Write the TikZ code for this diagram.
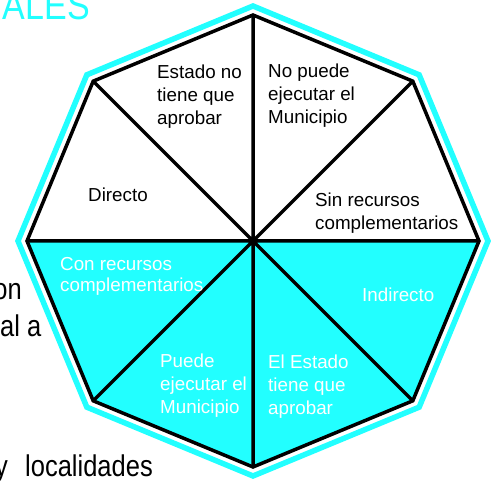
\documentclass[tikz,border=0pt]{standalone}
\usepackage{fontspec}
\setmainfont{Liberation Sans}
\newfontfamily\narrowfont[FakeStretch=0.85]{Liberation Sans}
\usepackage{tikz}
\usepackage{xcolor}
\definecolor{slidecyan}{HTML}{22FFFF}

\begin{document}
\begin{tikzpicture}[
  x=1pt, y=1pt,
  rim/.style={draw=slidecyan, line width=5.5pt, line join=miter},
  spoke/.style={draw=black, line width=3.5pt, line join=miter},
  lbl/.style={anchor=base west, inner sep=0pt, align=left, font=\fontsize{18.8}{23}\selectfont},
  lowlbl/.style={lbl, text=white},
  slide/.style={inner sep=0pt, font=\narrowfont\fontsize{30}{36}\selectfont}
]
\useasboundingbox (0,0) rectangle (491,481);
\coordinate (c) at (253,240);
\foreach \i in {0,...,7} {
  \coordinate (v\i) at ([shift={(\i*45:226)}]c);
  \coordinate (w\i) at ([shift={(\i*45:235)}]c);
}
% text of the slide behind
\node[slide, anchor=base east, text=slidecyan, font=\narrowfont\fontsize{40}{40}\selectfont] (ales) at (90,461) {ALES};
\node[slide, anchor=base east] (on) at (22,181) {on};
\node[slide, anchor=base west] (ala) at (0,144) {al a};
\node[slide, anchor=base east] (ye) at (8,4) {y};
\node[slide, anchor=base west] (loc) at (25,4) {localidades};
% octagon
\fill[slidecyan] (v4) -- (v5) -- (v6) -- (v7) -- (v0) -- cycle;
\draw[rim] (w0) -- (w1) -- (w2) -- (w3) -- (w4) -- (w5) -- (w6) -- (w7) -- cycle;
\draw[spoke] (v0) -- (v1) -- (v2) -- (v3) -- (v4) -- (v5) -- (v6) -- (v7) -- cycle;
\draw[spoke] (v0) -- (v4) (v1) -- (v5) (v2) -- (v6) (v3) -- (v7);
% labels (placed by the baseline of their last line)
\node[lbl] (noaprueba) at (157,356) {Estado no\\tiene que\\aprobar};
\node[lbl] (noejecuta) at (268,357) {No puede\\ejecutar el\\Municipio};
\node[lbl] (directo) at (88,279) {Directo};
\node[lbl] (sinrec) at (315,251) {Sin recursos\\complementarios};
\node[lowlbl, font=\fontsize{18.8}{21}\selectfont] (conrec) at (60,189) {Con recursos\\complementarios};
\node[lowlbl] (indirecto) at (362,179) {Indirecto};
\node[lowlbl] (ejecuta) at (160,67) {Puede\\ejecutar el\\Municipio};
\node[lowlbl] (aprueba) at (268,66) {El Estado\\tiene que\\aprobar};
\end{tikzpicture}
\end{document}
